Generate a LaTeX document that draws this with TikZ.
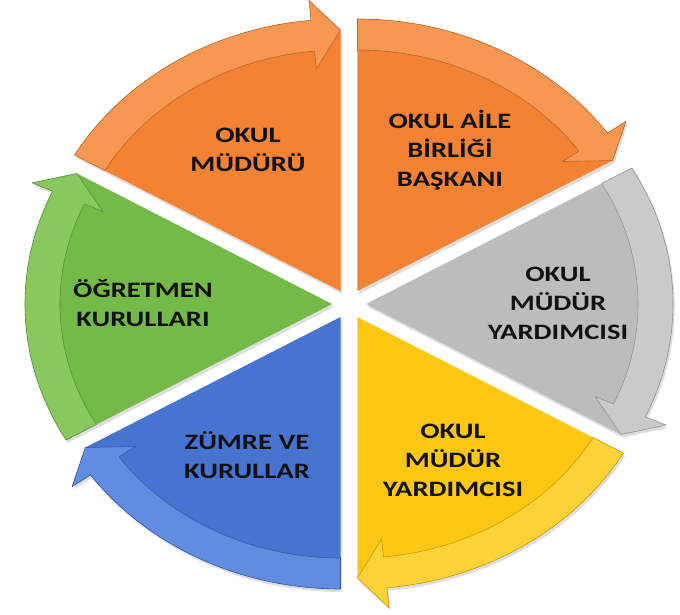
\documentclass[tikz,border=0pt]{standalone}
\usepackage{fontspec}
\setmainfont{Carlito}
\definecolor{orseg}{RGB}{243,130,50}
\definecolor{orband}{RGB}{247,152,82}
\definecolor{grseg}{RGB}{188,188,188}
\definecolor{grband}{RGB}{202,202,202}
\definecolor{yeseg}{RGB}{255,198,18}
\definecolor{yeband}{RGB}{255,211,55}
\definecolor{blseg}{RGB}{70,116,208}
\definecolor{blband}{RGB}{96,141,224}
\definecolor{gnseg}{RGB}{116,186,72}
\definecolor{gnband}{RGB}{136,200,94}
\definecolor{txt}{RGB}{17,17,17}
\newcommand\pieseg[3]{%
  \begin{scope}[shift={(#1:15)}]
    \pgfmathsetmacro\angS{#1+30}%
    \pgfmathsetmacro\angE{#1-30}%
    \pgfmathsetmacro\angB{#1-24.5}%
    \fill[black, opacity=0.13, shift={(1.5,-3)}] (0,0) -- (\angS:272) arc[start angle=\angS,end angle=\angB,radius=272]
      -- (\angB:292) -- (\angE:261) -- cycle;
    \fill[#2] (0,0) -- (\angS:272) arc[start angle=\angS,end angle=\angB,radius=272]
      -- (\angB:292) -- (\angE:261) -- cycle;
    \fill[#3, draw=#2!78!black, line width=0.6pt, line join=round]
      (\angS:272) arc[start angle=\angS,end angle=\angB,radius=272]
      -- (\angB:292) -- (\angE:261) -- (\angB:223) -- (\angB:241)
      arc[start angle=\angB,end angle=\angS,radius=241] -- cycle;
  \end{scope}}
\begin{document}
\begin{tikzpicture}[x=1pt,y=1pt,
  lbl/.style={align=center, text=txt, xscale=1.3,
    font=\bfseries\fontsize{22}{29}\selectfont}]
\useasboundingbox (-349,-310) rectangle (331,304);
\fill[white] (-349,-310) rectangle (331,304);
\begin{scope}[xscale=1.129]
  \pieseg{120}{orseg}{orband}
  \pieseg{60}{orseg}{orband}
  \pieseg{0}{grseg}{grband}
  \pieseg{-60}{yeseg}{yeband}
  \pieseg{-120}{blseg}{blband}
  \pieseg{180}{gnseg}{gnband}
\end{scope}
\node[lbl] (t1) at (-101,154) {OKUL\\MÜDÜRÜ};
\node[lbl] (t2) at (101,154) {OKUL AİLE\\BİRLİĞİ\\BAŞKANI};
\node[lbl] (t3) at (209,1) {OKUL\\MÜDÜR\\YARDIMCISI};
\node[lbl] (t4) at (-206,1) {ÖĞRETMEN\\KURULLARI};
\node[lbl] (t5) at (-102,-151) {ZÜMRE VE\\KURULLAR};
\node[lbl] (t6) at (104,-156) {OKUL\\MÜDÜR\\YARDIMCISI};
\end{tikzpicture}
\end{document}
